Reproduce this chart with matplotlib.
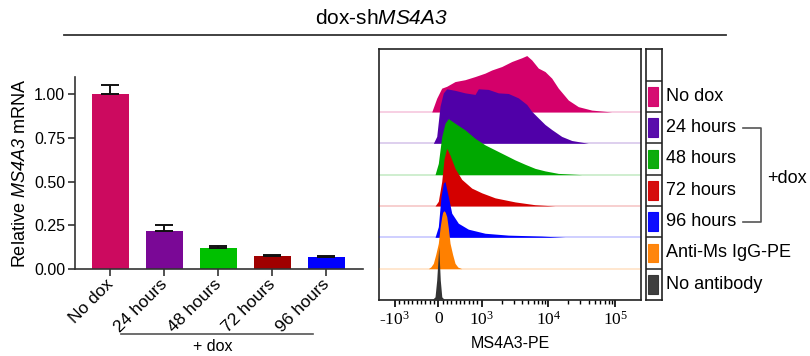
import matplotlib
matplotlib.use('Agg')
import matplotlib.pyplot as plt
from matplotlib.patches import Rectangle
from matplotlib.lines import Line2D
import matplotlib.transforms as mtransforms

plt.rcParams['font.family'] = 'Liberation Sans'
# italic gene names (digits too) and serif tick labels on the flow axis
plt.rcParams['mathtext.fontset'] = 'custom'
plt.rcParams['mathtext.rm'] = 'Liberation Sans:italic'
plt.rcParams['mathtext.it'] = 'Liberation Sans:italic'
plt.rcParams['mathtext.sf'] = 'Liberation Serif'

# bar chart data
bar_labels = ['No dox', '24 hours', '48 hours', '72 hours', '96 hours']
bar_values = [1.0, 0.218, 0.119, 0.075, 0.069]
bar_errors = [0.054, 0.033, 0.015, 0.004, 0.007]
bar_colors = ['#CC0A5F', '#7A0896', '#00C000', '#A00000', '#0000FF']

# flow histograms: MS4A3-PE value and height (in row units)
nodox_x = [-152, -37, 78, 194, 385, 615, 846, 1121, 1413, 1995, 2818, 3981, 4732,
           5623, 7056, 8892, 11200, 14070, 19880, 28070, 44600, 88900]
nodox_h = [0, 0.44, 0.76, 0.82, 0.97, 1.03, 1.13, 1.24, 1.34, 1.45, 1.61, 1.73, 1.80,
           1.66, 1.40, 1.29, 1.08, 0.76, 0.38, 0.17, 0.06, 0]
h24_x = [-115, -37, 39, 115, 194, 385, 615, 846, 922, 1256, 1774, 2506, 3539, 4732,
         5623, 7056, 8892, 11200, 15820, 22350, 39650]
h24_h = [0, 0.22, 1.18, 1.61, 1.74, 1.69, 1.61, 1.56, 1.74, 1.72, 1.61, 1.59, 1.45, 1.24,
         1.02, 0.81, 0.60, 0.44, 0.22, 0.09, 0]
h48_x = [-76, 0, 78, 154, 230, 385, 615, 846, 1121, 1585, 2239, 3162, 4467, 6310,
         8892, 14070, 31620]
h48_h = [0, 0.36, 1.21, 1.64, 1.79, 1.64, 1.43, 1.16, 0.95, 0.79, 0.63, 0.47, 0.33, 0.20,
         0.12, 0.04, 0]
h72_x = [-76, 0, 78, 131, 194, 270, 385, 539, 770, 1000, 1585, 3162, 6310, 12590]
h72_h = [0, 0.15, 0.78, 1.5, 1.84, 1.62, 1.2, 0.85, 0.57, 0.42, 0.26, 0.13, 0.04, 0]
h96_x = [-76, 0, 62, 115, 154, 230, 309, 461, 691, 1121, 2506, 7943, 17740]
h96_h = [0, 0.34, 1.30, 1.73, 1.78, 1.30, 0.77, 0.45, 0.26, 0.13, 0.07, 0.04, 0]
igg_x = [-230, -170, -115, -60, 0, 40, 78, 100, 131, 160, 194, 230, 270, 330, 385, 450, 539]
igg_h = [0, 0.06, 0.17, 0.45, 0.81, 1.3, 1.66, 1.8, 1.85, 1.8, 1.66, 1.3, 0.81, 0.45,
         0.17, 0.05, 0]
noab_x = [-150, -76, -37, 10, 45, 80, 150]
noab_h = [0, 0.1, 0.64, 1.70, 0.64, 0.1, 0]

hist_labels = ['No dox', '24 hours', '48 hours', '72 hours', '96 hours',
               'Anti-Ms IgG-PE', 'No antibody']
hist_colors = ['#D4006A', '#5000A8', '#00A800', '#D40000', '#0000FF', '#FF8000', '#333333']
hist_x = [nodox_x, h24_x, h48_x, h72_x, h96_x, igg_x, noab_x]
hist_h = [nodox_h, h24_h, h48_h, h72_h, h96_h, igg_h, noab_h]

W, H = 810, 356
fig = plt.figure(figsize=(W / 100, H / 100), dpi=100)

# title and rule
fig.text(381.7 / W, 1 - 18.5 / H, r'dox-sh$\mathit{MS4A3}$', fontsize=15,
         ha='center', va='center')
fig.add_artist(Line2D([64 / W, 725.7 / W], [1 - 35.3 / H] * 2, color='#333333', lw=1.3))

# bar chart
ax1 = fig.add_axes([75 / W, 1 - 269 / H, 288 / W, 192 / H])
xs = range(len(bar_labels))
ax1.bar(xs, bar_values, width=0.685, color=bar_colors, zorder=2)
ax1.errorbar(xs, bar_values, yerr=[[0] * 5, bar_errors], fmt='none', ecolor='#111111',
             elinewidth=1.4, capsize=6.3, capthick=1.4, zorder=3)
ax1.set_xlim(-0.657, 4.676)
ax1.set_ylim(0, 1.1)
ax1.set_yticks([0, 0.25, 0.5, 0.75, 1.0])
ax1.set_yticklabels(['0.00', '0.25', '0.50', '0.75', '1.00'], fontsize=11.5)
ax1.set_xticks(list(xs))
ax1.set_xticklabels(bar_labels, rotation=45, ha='right', va='center',
                    rotation_mode='anchor', fontsize=12.5)
ax1.tick_params(axis='x', length=5, width=1.2, color='#333333', pad=4)
ax1.tick_params(axis='y', length=5, width=1.2, color='#333333', pad=2)
for s in ['top', 'right']:
    ax1.spines[s].set_visible(False)
for s in ['left', 'bottom']:
    ax1.spines[s].set_color('#333333')
    ax1.spines[s].set_linewidth(1.2)
ax1.set_ylabel(r'Relative $\mathit{MS4A3}$ mRNA', fontsize=13, labelpad=4)

fig.add_artist(Line2D([121 / W, 312.7 / W], [1 - 334.3 / H] * 2, color='#555555', lw=1.2))
fig.text(212.7 / W, 1 - 346.5 / H, '+ dox', fontsize=11.5, ha='center', va='center')

# histograms
ax2 = fig.add_axes([379.3 / W, 1 - 300 / H, 261.4 / W, 250.7 / H])
ax2.set_xscale('symlog', linthresh=1000, linscale=0.586)
nrows = len(hist_labels)
for i, (lab, col, hx, hh) in enumerate(zip(hist_labels, hist_colors, hist_x, hist_h)):
    base = nrows - 1 - i
    ax2.axhline(base, color=col, alpha=0.22, lw=1.2, zorder=i + 0.5)
    ax2.fill_between(hx, [base] * len(hh), [base + v for v in hh], color=col,
                     lw=0, zorder=i + 1)
ax2.set_xlim(-1714, 242000)
ax2.set_ylim(0, 8)
ax2.set_yticks([])
ax2.set_xticks([-1000, 0, 1000, 10000, 100000])
ax2.set_xticklabels([r'-$\mathsf{10^{3}}$', '0', r'$\mathsf{10^{3}}$',
                     r'$\mathsf{10^{4}}$', r'$\mathsf{10^{5}}$'],
                    fontfamily='Liberation Serif', fontsize=12.5)
minor = list(range(-900, 0, 100)) + list(range(100, 1000, 100))
minor += [k * 1000 for k in range(2, 10)] + [k * 10000 for k in range(2, 10)]
ax2.set_xticks(minor, minor=True)
ax2.tick_params(axis='x', which='major', length=5, width=1.2, pad=3)
ax2.tick_params(axis='x', which='minor', length=3, width=1)
for s in ax2.spines.values():
    s.set_linewidth(1.2)
    s.set_color('#222222')
ax2.set_xlabel('MS4A3-PE', fontsize=11.5, labelpad=5)

# legend column
lax = fig.add_axes([646 / W, 1 - 300 / H, 15.7 / W, 250.7 / H])
lax.set_xlim(0, 1)
lax.set_ylim(0, 8)
lax.set_xticks([])
lax.set_yticks([])
for s in lax.spines.values():
    s.set_linewidth(1.2)
    s.set_color('#222222')
for k in range(1, 8):
    lax.axhline(k, color='#222222', lw=1.1)
for i, (lab, col) in enumerate(zip(hist_labels, hist_colors)):
    row = nrows - 1 - i
    lax.add_patch(Rectangle((0.15, row + 0.2), 0.6, 0.6, facecolor=col,
                            edgecolor=col, alpha=0.95, lw=0.8))
    lax.text(1.27, row + 0.5, lab, fontsize=13, ha='left', va='center')

tr = mtransforms.blended_transform_factory(fig.transFigure, lax.transData)
fig.add_artist(Line2D([743 / W, 760.7 / W, 760.7 / W, 743 / W], [5.5, 5.5, 2.5, 2.5],
                      transform=tr, color='#555555', lw=1.2))
fig.text(767 / W, 3.88, '+dox', fontsize=13, ha='left', va='center', transform=tr)

fig.savefig('out.png', dpi=100)
